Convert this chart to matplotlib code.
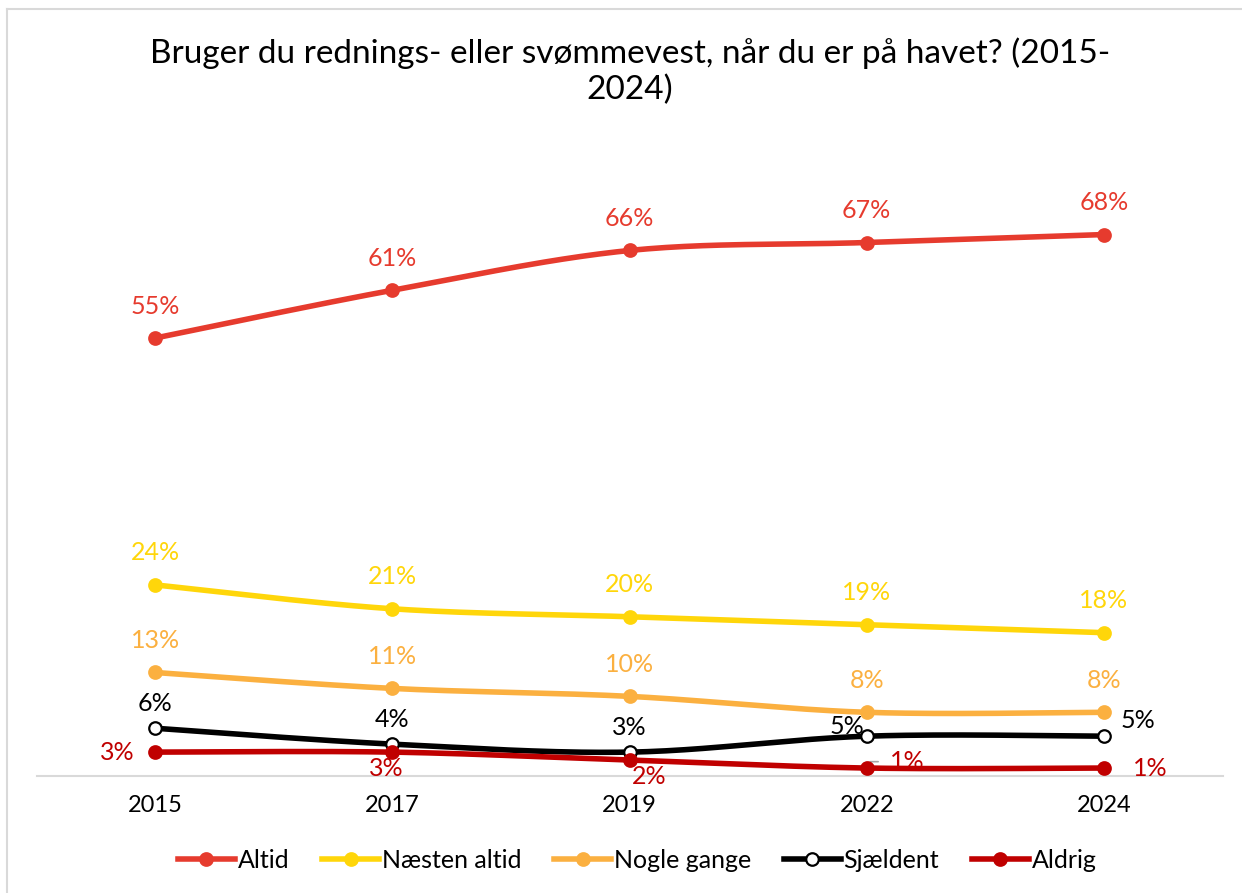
import matplotlib
matplotlib.use('Agg')
import matplotlib.pyplot as plt
import numpy as np
from matplotlib.lines import Line2D

plt.rcParams['font.family'] = ['Lato', 'DejaVu Sans']

years = ['2015', '2017', '2019', '2022', '2024']
altid = [55, 61, 66, 67, 68]
naesten_altid = [24, 21, 20, 19, 18]
nogle_gange = [13, 11, 10, 8, 8]
sjaeldent = [6, 4, 3, 5, 5]
aldrig = [3, 3, 2, 1, 1]

title = 'Bruger du rednings- eller svømmevest, når du er på havet? (2015-\n2024)'


# excel style smoothed line (bezier through the points)
def smooth(xs, ys, n=40):
    pts = np.column_stack([xs, ys]).astype(float)
    p = np.vstack([pts[0], pts, pts[-1]])
    out = []
    for i in range(1, len(p) - 2):
        p0, p1, p2, p3 = p[i], p[i] + (p[i + 1] - p[i - 1]) / 6, p[i + 1] - (p[i + 2] - p[i]) / 6, p[i + 1]
        t = np.linspace(0, 1, n)[:, None]
        seg = (1 - t) ** 3 * p0 + 3 * (1 - t) ** 2 * t * p1 + 3 * (1 - t) * t ** 2 * p2 + t ** 3 * p3
        out.append(seg)
    out = np.vstack(out)
    return out[:, 0], out[:, 1]


fig = plt.figure(figsize=(12.42, 8.93), dpi=100)
ax = fig.add_axes([36.5 / 1242, 117 / 893, 1186 / 1242, 637 / 893])
x = np.arange(len(years))

series = [
    ('Altid', altid, '#E63B2E', '#E63B2E'),
    ('Næsten altid', naesten_altid, '#FFD60A', '#FFD60A'),
    ('Nogle gange', nogle_gange, '#FBB040', '#FBB040'),
    ('Sjældent', sjaeldent, '#000000', 'white'),
    ('Aldrig', aldrig, '#C00000', '#C00000'),
]

handles = []
for name, vals, col, face in series:
    sx, sy = smooth(x, vals)
    ax.plot(sx, sy, color=col, lw=4, solid_capstyle='round', zorder=3)
    ax.plot(x, vals, 'o', ms=9, mfc=face, mec=col, mew=1.6, zorder=4)
    handles.append(Line2D([0], [0], color=col, lw=4, marker='o', ms=9, mfc=face, mec=col, mew=1.6))

fs = 18
# labels above
for name, vals, col, face in series[:3]:
    for i, v in enumerate(vals):
        ax.annotate(f'{v}%', (i, v), xytext=(0, 23), textcoords='offset points',
                    ha='center', va='center', color=col, fontsize=fs)

# sjaeldent
for i, v in enumerate(sjaeldent):
    if i < 3:
        off, ha = (0, 18), 'center'
    elif i == 3:
        off, ha = (-14, 7), 'center'
    else:
        off, ha = (12, 11), 'left'
    ax.annotate(f'{v}%', (i, v), xytext=off, textcoords='offset points',
                ha=ha, va='center', color='black', fontsize=fs)

# aldrig
aldrig_off = [(-15, 0, 'right'), (-4, -12, 'center'), (14, -12, 'center'), (29, 5, 'center'), (21, 0, 'left')]
for i, v in enumerate(aldrig):
    dx, dy, ha = aldrig_off[i]
    ax.annotate(f'{v}%', (i, v), xytext=(dx, dy), textcoords='offset points',
                ha=ha, va='center', color='#C00000', fontsize=fs)
# leader line 2022
ax.annotate('', (3, aldrig[3]), xytext=(3.06, aldrig[3] + 0.8),
            arrowprops=dict(arrowstyle='-', color='#A6A6A6', lw=1.2,
                            connectionstyle='angle,angleA=0,angleB=60,rad=0'),
            zorder=2)

ax.set_xlim(-0.5, 4.5)
ax.set_ylim(0, 80)
ax.set_xticks(x)
ax.set_xticklabels(years, fontsize=17)
ax.set_yticks([])
ax.tick_params(axis='x', length=0, pad=14)
for s in ['top', 'right', 'left']:
    ax.spines[s].set_visible(False)
ax.spines['bottom'].set_color('#D9D9D9')
ax.spines['bottom'].set_linewidth(1.5)

fig.text(630 / 1242, 1 - 71 / 893, title, ha='center', va='center', fontsize=24, linespacing=1.25)

fig.legend(handles, [s[0] for s in series], loc='center', bbox_to_anchor=(0.513, 1 - 860 / 893),
           ncol=5, frameon=False, fontsize=fs, handlelength=2.3, handletextpad=0.1, columnspacing=1.3)

# outer frame
fig.add_artist(Line2D([6.5 / 1242, 6.5 / 1242], [0, 1 - 9 / 893], color='#D9D9D9', lw=1.5, transform=fig.transFigure))
fig.add_artist(Line2D([6.5 / 1242, 1], [1 - 9 / 893, 1 - 9 / 893], color='#D9D9D9', lw=1.5, transform=fig.transFigure))

fig.savefig('out.png', dpi=100)
